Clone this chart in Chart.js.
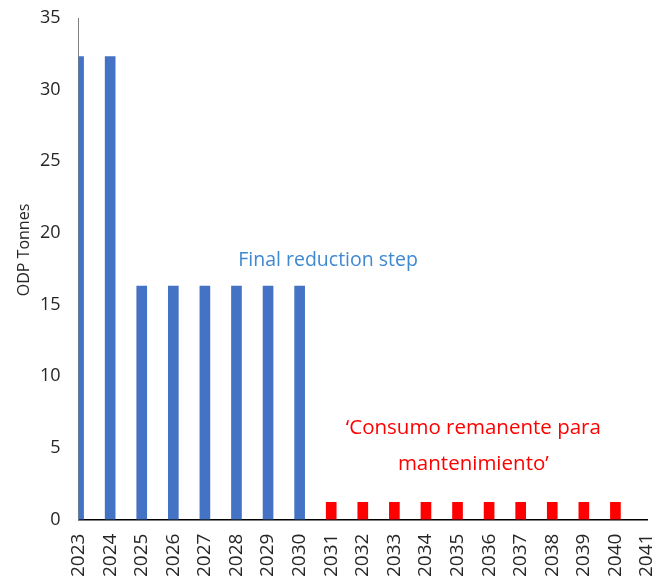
<!DOCTYPE html>
<html>
<head>
<meta charset="utf-8">
<script src="https://cdn.jsdelivr.net/npm/chart.js@4.4.1/dist/chart.umd.min.js"></script>
<style>
  html, body { margin: 0; padding: 0; background: #ffffff; }
  #wrap { width: 658px; height: 582px; position: relative; }
</style>
</head>
<body>
<div id="wrap"><canvas id="c"></canvas></div>
<script>
// ---- data ----
const years = ['2023','2024','2025','2026','2027','2028','2029','2030','2031','2032',
               '2033','2034','2035','2036','2037','2038','2039','2040','2041'];
const reductionValues   = [32.3, 32.3, 16.3, 16.3, 16.3, 16.3, 16.3, 16.3]; // 2023-2030
const maintenanceValues = [1.2, 1.2, 1.2, 1.2, 1.2, 1.2, 1.2, 1.2, 1.2, 1.2]; // 2031-2040
const yTicks = [0, 5, 10, 15, 20, 25, 30, 35];
const yTitle = 'ODP Tonnes';
const noteBlue = ['Final reduction step'];
const noteRed = ['\u2018Consumo remanente para', 'mantenimiento\u2019'];

// build series aligned to categories
const blueData = years.map((y, i) => i < reductionValues.length ? reductionValues[i] : null);
const redData = years.map((y, i) => {
  const j = i - reductionValues.length;
  return (j >= 0 && j < maintenanceValues.length) ? maintenanceValues[j] : null;
});

const FONT = "'Open Sans', sans-serif";

const notesPlugin = {
  id: 'notes',
  afterDraw(chart) {
    const ctx = chart.ctx;
    const xs = chart.scales.x, ys = chart.scales.y;
    ctx.save();
    ctx.textAlign = 'center';
    ctx.textBaseline = 'middle';
    // axis title
    ctx.save();
    ctx.translate(24, 250);
    ctx.rotate(-Math.PI / 2);
    ctx.fillStyle = '#262626';
    ctx.font = "16px " + FONT;
    ctx.fillText(yTitle, 0, 0);
    ctx.restore();
    // blue annotation
    ctx.font = "19.5px " + FONT;
    ctx.fillStyle = '#3F88D2';
    ctx.fillText(noteBlue[0], xs.getPixelForValue(7.9), ys.getPixelForValue(18.1));
    // red annotation
    ctx.font = "20.5px " + FONT;
    ctx.fillStyle = '#FF0000';
    ctx.fillText(noteRed[0], xs.getPixelForValue(12.5), ys.getPixelForValue(6.4));
    ctx.fillText(noteRed[1], xs.getPixelForValue(12.5), ys.getPixelForValue(3.9));
    ctx.restore();
  }
};

new Chart(document.getElementById('c'), {
  type: 'bar',
  data: {
    labels: years,
    datasets: [
      { label: 'reduction', data: blueData, backgroundColor: '#4472C4', barThickness: 10 },
      { label: 'maintenance', data: redData, backgroundColor: '#FF0000', barThickness: 10 }
    ]
  },
  options: {
    responsive: true,
    maintainAspectRatio: false,
    animation: false,
    layout: { padding: { left: 22, right: 11, top: 18, bottom: -9 } },
    plugins: { legend: { display: false }, tooltip: { enabled: false } },
    scales: {
      x: {
        stacked: true,
        offset: false,
        grid: { display: false, drawTicks: false },
        border: { display: true, color: '#000000', width: 1.5 },
        ticks: {
          color: '#262626',
          font: { family: FONT, size: 19 },
          minRotation: 90, maxRotation: 90,
          padding: 14,
          autoSkip: false
        },
        afterFit(scale) { scale.paddingLeft = 0; scale.paddingRight = 0; }
      },
      y: {
        stacked: false,
        min: 0, max: 35,
        afterBuildTicks(scale) { scale.ticks = yTicks.map(v => ({ value: v })); },
        grid: { display: false, drawTicks: false },
        border: { display: true, color: '#7f7f7f', width: 1 },
        ticks: {
          color: '#262626',
          font: { family: FONT, size: 18 },
          padding: 18
        },
        afterFit(scale) { scale.paddingTop = 0; scale.paddingBottom = 0; }
      }
    }
  },
  plugins: [notesPlugin]
});
</script>
</body>
</html>
